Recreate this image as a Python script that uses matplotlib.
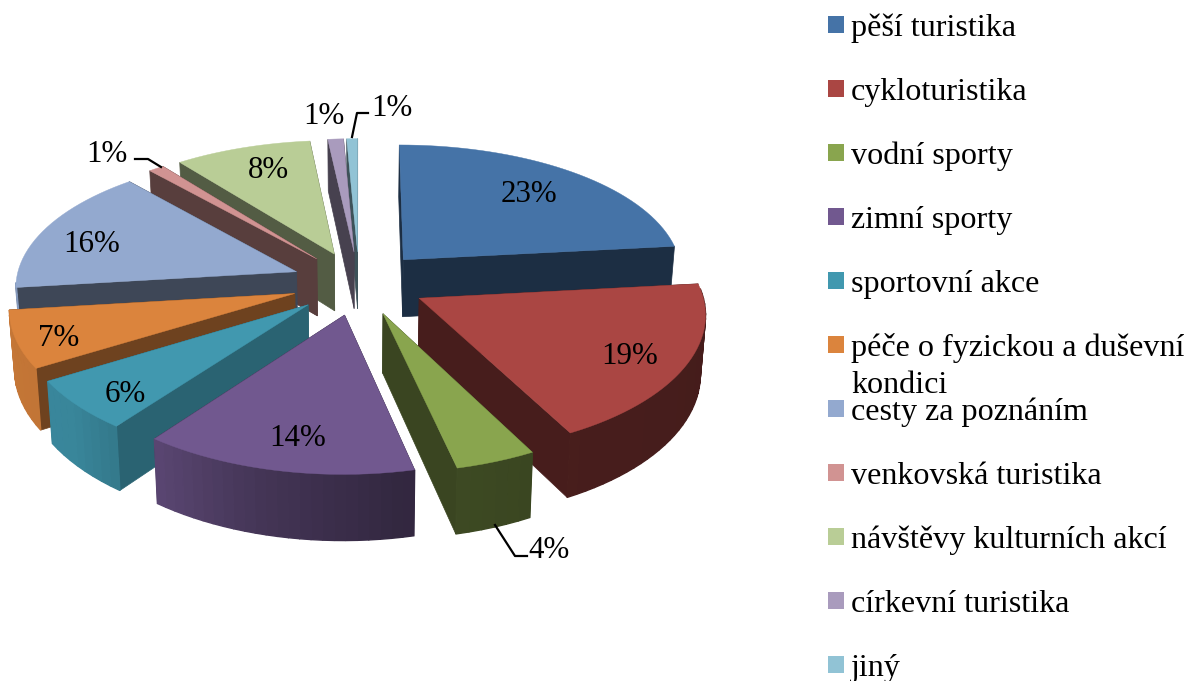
import numpy as np
import matplotlib
matplotlib.use("Agg")
import matplotlib.pyplot as plt
from matplotlib.patches import Polygon, Rectangle

categories = ["pěší turistika", "cykloturistika", "vodní sporty", "zimní sporty", "sportovní akce",
              "péče o fyzickou a duševní\nkondici", "cesty za poznáním", "venkovská turistika",
              "návštěvy kulturních akcí", "církevní turistika", "jiný"]
percent_labels = [23, 19, 4, 14, 6, 7, 16, 1, 8, 1, 1]
shares = [23.3, 19.0, 4.1, 13.9, 6.0, 6.8, 15.4, 1.0, 8.8, 1.0, 0.7]
colors = ["#4573A7", "#AA4643", "#89A54E", "#71588F", "#4198AF", "#DB843D",
          "#93A9CF", "#D19392", "#B9CD96", "#A99BBD", "#91C3D5"]
wall_shade = [0.40, 0.42, 0.42, 0.45, 0.65, 0.50, 0.42, 0.42, 0.45, 0.42, 0.42]
label_pos = [(529, 194), (630, 357), (549, 550), (298, 439), (125, 394), (59, 339),
             (92, 244), (107, 154), (268, 171), (324, 116), (392, 108)]

CX, CY, RX, RY, PERSP, PERSP_Y, EXPL, DEPTH, TAPER = 359, 283, 281, 133, 0.10, 0.115, 0.24, 58, 0.015
FS_LABEL, FS_LEGEND = 22.3, 23.1
LEG_TOP, LEG_STEP = 16, 64
plt.rcParams["font.family"] = ["Liberation Serif", "DejaVu Serif"]

fig = plt.figure(figsize=(11.88, 6.81), dpi=100)
ax = fig.add_axes([0, 0, 1, 1])
ax.set_xlim(0, 1188)
ax.set_ylim(681, 0)
ax.axis("off")


def project(X, Y, z=0.0):
    s = 1 / (1 - PERSP * Y)
    sy = 1 / (1 - PERSP_Y * Y)
    return CX + RX * X * s * (1 - TAPER * z), CY + RY * Y * sy + DEPTH * z * s


def shade(c, f):
    return tuple(v * f for v in matplotlib.colors.to_rgb(c))


def arc_shade(deg):
    # brightness of the rim as a function of its clockwise angle
    return float(np.interp(deg, [90, 150, 170, 195, 215, 230, 265], [0.40, 0.42, 0.45, 0.60, 0.78, 0.88, 0.90]))


fracs = np.array(shares) / sum(shares)
starts = np.concatenate([[0], np.cumsum(fracs)[:-1]]) * 360
ends = starts + fracs * 360
mids = (starts + ends) / 2
slices = []
for i in range(len(shares)):
    m = np.radians(mids[i])
    ox, oy = EXPL * np.sin(m), -EXPL * np.cos(m)
    slices.append((oy, i, ox))

for oy, i, ox in sorted(slices):
    angs = np.linspace(starts[i], ends[i], max(6, int(fracs[i] * 360 / 2)))
    rad = np.radians(angs)
    rimX, rimY = ox + np.sin(rad), oy - np.cos(rad)
    c = colors[i]
    wc = shade(c, wall_shade[i])
    for k in (0, -1):
        pts = [project(ox, oy), project(rimX[k], rimY[k]), project(rimX[k], rimY[k], 1), project(ox, oy, 1)]
        ax.add_patch(Polygon(pts, closed=True, fc=wc, ec=wc, lw=0.5))
    for k in range(len(angs) - 1):
        mid = (angs[k] + angs[k + 1]) / 2
        if not 85 < mid < 265:
            continue
        col = shade(c, arc_shade(mid))
        pts = [project(rimX[k], rimY[k]), project(rimX[k + 1], rimY[k + 1]),
               project(rimX[k + 1], rimY[k + 1], 1), project(rimX[k], rimY[k], 1)]
        ax.add_patch(Polygon(pts, closed=True, fc=col, ec=col, lw=1.0))
    top = [project(ox, oy)] + [project(a, b) for a, b in zip(rimX, rimY)]
    ax.add_patch(Polygon(top, closed=True, fc=c, ec=c, lw=0.3))

for v, (x, y) in zip(percent_labels, label_pos):
    ax.text(x, y, f"{v}%", fontsize=FS_LABEL, ha="center", va="center", color="black")

ax.plot([495, 515, 527], [525, 556, 556], color="black", lw=1.6)
ax.plot([135, 148, 161], [159, 159, 167], color="black", lw=1.6)
ax.plot([352, 357, 368], [137, 113, 113], color="black", lw=1.6)

for i, (name, c) in enumerate(zip(categories, colors)):
    top = LEG_TOP + LEG_STEP * i
    ax.add_patch(Rectangle((828, top), 16, 17, fc=c, ec="none"))
    parts = name.split("\n")
    ax.text(851, top + 20, parts[0], fontsize=FS_LEGEND, ha="left", va="baseline", color="black")
    if len(parts) > 1:
        ax.text(851, top + 57, parts[1], fontsize=FS_LEGEND, ha="left", va="baseline", color="black")

fig.savefig("out.png", dpi=100)
